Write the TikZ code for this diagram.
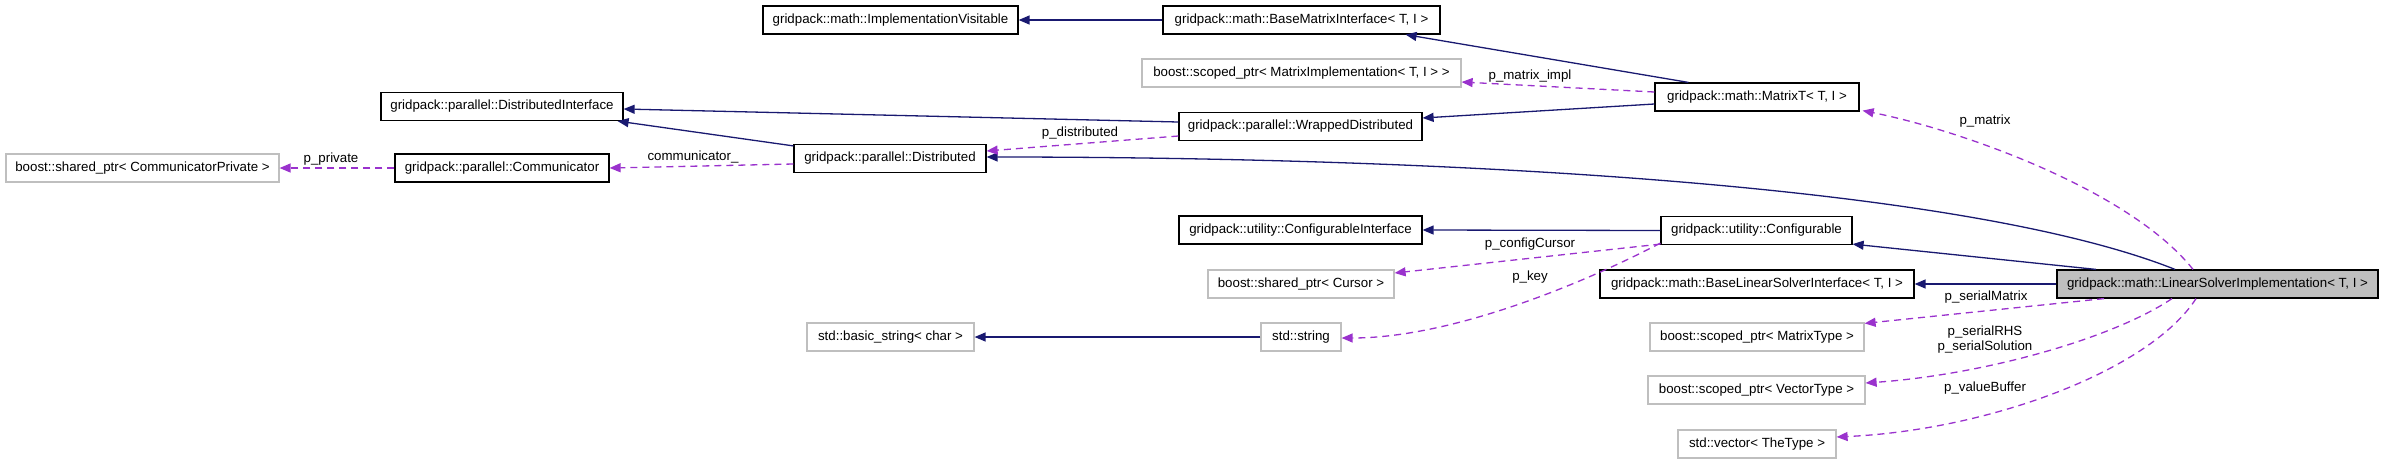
\documentclass[tikz,border=0pt]{standalone}
\usepackage{fontspec}
\setmainfont{Liberation Sans}
\usetikzlibrary{arrows.meta}
\definecolor{inh}{HTML}{191970}
\definecolor{use}{HTML}{9A32CD}
\definecolor{boxgray}{HTML}{BFBFBF}
\definecolor{fillgray}{HTML}{BFBFBF}
\newcommand{\dfont}{\fontsize{13.3}{15}\selectfont}
\tikzset{
  cls/.style={draw=black, line width=1.2pt, minimum height=28pt, inner sep=0pt, font=\dfont, anchor=center},
  ext/.style={cls, draw=boxgray},
  self/.style={cls, fill=fillgray},
  inhline/.style={draw=inh, line width=1.3pt, -{Triangle[length=11pt,width=9pt]}},
  useline/.style={draw=use, line width=1.3pt, dash pattern=on 7pt off 5pt, -{Triangle[length=11pt,width=9pt]}},
  lbl/.style={font=\dfont, inner sep=0pt, align=center}
}
\begin{document}
\begin{tikzpicture}[x=1pt,y=-1pt]
\useasboundingbox (0,0) rectangle (2384,464);
% nodes
\node[cls, minimum width=255pt] (implvis) at (890.5,20) {gridpack::math::ImplementationVisitable};
\node[cls, minimum width=277pt] (bmi) at (1301.5,20) {gridpack::math::BaseMatrixInterface< T, I >};
\node[ext, minimum width=319pt] (smi) at (1301.5,73) {boost::scoped\_ptr< MatrixImplementation< T, I > >};
\node[cls, minimum width=204pt] (matrixt) at (1757,97) {gridpack::math::MatrixT< T, I >};
\node[cls, minimum width=242pt] (di) at (502,106.5) {gridpack::parallel::DistributedInterface};
\node[cls, minimum width=243pt] (wd) at (1300.5,126.5) {gridpack::parallel::WrappedDistributed};
\node[cls, minimum width=192pt] (dist) at (890,158.5) {gridpack::parallel::Distributed};
\node[cls, minimum width=214pt] (comm) at (502,168) {gridpack::parallel::Communicator};
\node[ext, minimum width=273pt] (cpriv) at (142.5,168) {boost::shared\_ptr< CommunicatorPrivate >};
\node[cls, minimum width=243pt] (ci) at (1300.5,230) {gridpack::utility::ConfigurableInterface};
\node[cls, minimum width=191pt] (conf) at (1756.5,230.5) {gridpack::utility::Configurable};
\node[ext, minimum width=186pt] (cursor) at (1301,284) {boost::shared\_ptr< Cursor >};
\node[cls, minimum width=314pt] (blsi) at (1757,284) {gridpack::math::BaseLinearSolverInterface< T, I >};
\node[self, minimum width=321pt] (lsi) at (2217.5,284) {gridpack::math::LinearSolverImplementation< T, I >};
\node[ext, minimum width=167pt] (bstr) at (890.5,337) {std::basic\_string< char >};
\node[ext, minimum width=80pt] (str) at (1301,337) {std::string};
\node[ext, minimum width=214pt] (smt) at (1757,337) {boost::scoped\_ptr< MatrixType >};
\node[ext, minimum width=217pt] (svt) at (1756.5,390) {boost::scoped\_ptr< VectorType >};
\node[ext, minimum width=158pt] (vec) at (1757,444) {std::vector< TheType >};
% inheritance edges
\draw[inhline] (bmi.west) -- (implvis.east);
\draw[inhline] ([xshift=34pt]matrixt.north west) -- ([xshift=-35pt]bmi.south east);
\draw[inhline] ([yshift=-7pt]matrixt.west) -- ([yshift=8.5pt]wd.east);
\draw[inhline] ([yshift=4.5pt]wd.west) -- ([yshift=-2.5pt]di.east);
\draw[inhline] ([yshift=-2pt]dist.north west) -- ([xshift=-6pt]di.south east);
\draw[inhline] ([xshift=-42.5pt]lsi.north) .. controls (1950,180) and (1400,157) .. ([yshift=1.5pt]dist.east);
\draw[inhline] ([xshift=-121.5pt]lsi.north) -- ([yshift=1pt]conf.south east);
\draw[inhline] (conf.west) -- (ci.east);
\draw[inhline] (str.west) -- (bstr.east);
\draw[inhline] (lsi.west) -- (blsi.east);
% usage edges
\draw[useline] ([yshift=5pt]matrixt.west) -- ([yshift=-9pt]smi.east);
\node[lbl] (l1) at (1530,76) {p\_matrix\_impl};
\draw[useline] ([yshift=-9.5pt]wd.west) -- ([yshift=7.5pt]dist.east);
\node[lbl] (l2) at (1080,133) {p\_distributed};
\draw[useline] ([yshift=-5.5pt]dist.west) -- (comm.east);
\node[lbl] (l3) at (693,157) {communicator\_};
\draw[useline] (comm.west) -- (cpriv.east);
\node[lbl] (l4) at (331,159) {p\_private};
\draw[useline] ([xshift=-24.5pt]lsi.north) .. controls (2130,190) and (1960,130) .. ([xshift=3pt,yshift=1pt]matrixt.south east);
\node[lbl] (l5) at (1985,121) {p\_matrix};
\draw[useline] ([yshift=1pt]conf.south west) -- ([yshift=11pt]cursor.east);
\node[lbl] (l6) at (1530,244) {p\_configCursor};
\draw[useline] ([yshift=2pt]conf.south west) .. controls (1580,285) and (1450,338) .. ([yshift=-1pt]str.east);
\node[lbl] (l7) at (1530,277) {p\_key};
\draw[useline] ([xshift=-113.5pt]lsi.south) -- ([yshift=-1pt]smt.north east);
\node[lbl] (l8) at (1986,297) {p\_serialMatrix};
\draw[useline] ([xshift=-45.5pt]lsi.south) .. controls (2110,340) and (1980,375) .. ([yshift=7pt]svt.east);
\node[lbl] (l9) at (1985,339.5) {p\_serialRHS\\p\_serialSolution};
\draw[useline] ([xshift=-21.5pt]lsi.south) .. controls (2150,370) and (1990,430) .. ([yshift=7pt]vec.east);
\node[lbl] (l10) at (1985,388) {p\_valueBuffer};
\end{tikzpicture}
\end{document}
